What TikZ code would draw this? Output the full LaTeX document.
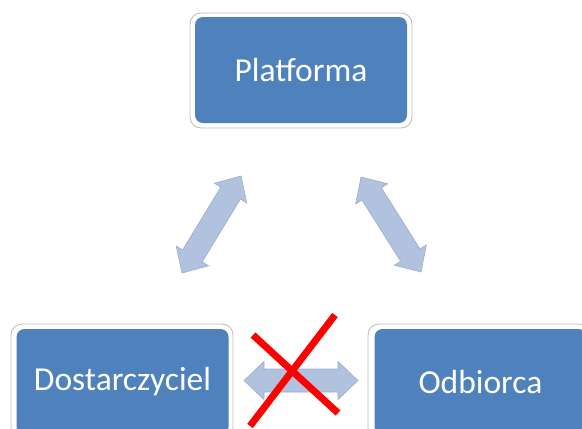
\documentclass[tikz,border=0pt]{standalone}
\usepackage{fontspec}
\setmainfont{Carlito}
\usetikzlibrary{calc}
\definecolor{boxblue}{HTML}{4F81BD}
\definecolor{arrowfill}{HTML}{B0C2DD}
\definecolor{arrowline}{HTML}{9DAECB}
\definecolor{framegray}{HTML}{BFBFBF}

% Block double arrow between two named coordinates
\newcommand\dblarrow[2]{%
  \coordinate (h1) at ($(#1)!20pt!(#2)$);
  \coordinate (h2) at ($(#2)!20pt!(#1)$);
  \filldraw[blockarrow] (#1)
    -- ($(h1)!19pt!90:(#2)$) -- ($(h1)!11.5pt!90:(#2)$)
    -- ($(h2)!11.5pt!-90:(#1)$) -- ($(h2)!19pt!-90:(#1)$)
    -- (#2)
    -- ($(h2)!19pt!90:(#1)$) -- ($(h2)!11.5pt!90:(#1)$)
    -- ($(h1)!11.5pt!-90:(#2)$) -- ($(h1)!19pt!-90:(#2)$)
    -- cycle;}

\begin{document}
\begin{tikzpicture}[x=1pt,y=-1pt,
  frame/.style={draw=framegray, fill=white, line width=0.9pt,
    rounded corners=11pt, minimum width=222pt, minimum height=115pt, inner sep=0pt},
  entity/.style={fill=boxblue, rounded corners=8pt, minimum width=212pt,
    minimum height=106pt, inner sep=0pt, text=white,
    font=\fontsize{33.5}{40}\selectfont},
  blockarrow/.style={fill=arrowfill, draw=arrowline, line width=0.6pt, line join=miter},
  cross/.style={draw=red, line width=7pt}]
\useasboundingbox (0,0) rectangle (582,429);

% entity boxes with their white frames
\node[frame] (pf) at (301,70.5) {};
\node[entity] (platforma) at (301,70) {Platforma};
\node[frame] (df) at (122,381.5) {};
\node[entity] (dostawca) at (122.5,382) {Dostarczyciel};
\node[frame] (of) at (479,381.5) {};
\node[entity] (odbiorca) at (480.5,382) {Odbiorca};

% arrow end points
\coordinate (l1) at (182,273);
\coordinate (l2) at (241,176);
\coordinate (r1) at (361,177);
\coordinate (r2) at (421,272);
\coordinate (m1) at (244,380.5);
\coordinate (m2) at (358,380.5);

\dblarrow{l1}{l2}
\dblarrow{r1}{r2}
\dblarrow{m1}{m2}

% crossing out the direct link
\coordinate (x1) at (253,335);
\coordinate (x2) at (338,413);
\coordinate (x3) at (335,315);
\coordinate (x4) at (250,426);
\draw[cross] (x1) -- (x2);
\draw[cross] (x3) -- (x4);
\end{tikzpicture}
\end{document}
